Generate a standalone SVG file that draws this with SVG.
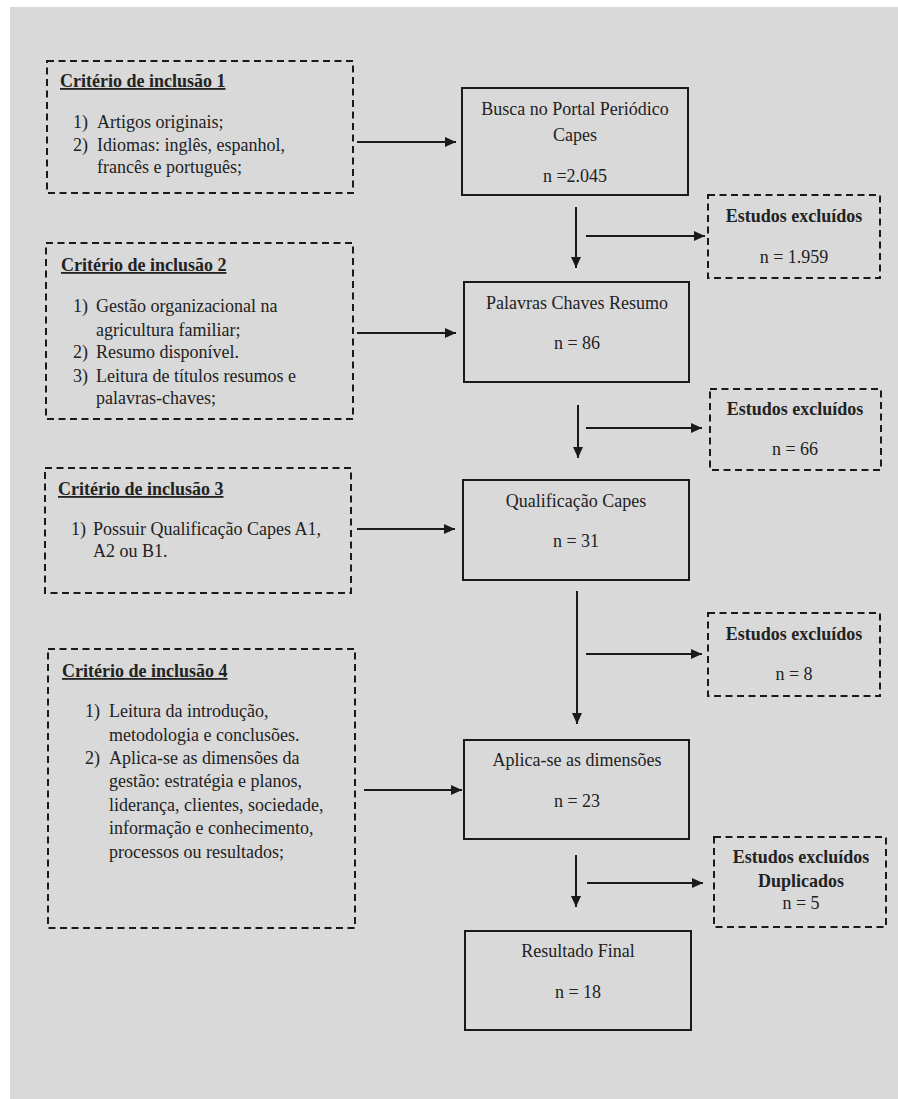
<svg xmlns="http://www.w3.org/2000/svg" width="898" height="1099" viewBox="0 0 898 1099" font-family="Liberation Serif, DejaVu Serif, serif">
<defs>
<marker id="ah" markerUnits="userSpaceOnUse" markerWidth="12" markerHeight="10" refX="11" refY="5" orient="auto">
<path d="M0,0 L11,5 L0,10 z" fill="#1a1a1a"/>
</marker>
<style>
text{font-family:'Liberation Serif','DejaVu Serif',serif;font-size:18px;fill:#222;}
.t{font-weight:bold;text-decoration:underline;}
.b{font-weight:bold;}
.c{text-anchor:middle;}
.dash{fill:none;stroke:#1a1a1a;stroke-width:2;stroke-dasharray:7 4.5;}
.box{fill:none;stroke:#1a1a1a;stroke-width:2;}
.con{fill:none;stroke:#1a1a1a;stroke-width:2;marker-end:url(#ah);}
</style>
</defs>
<rect x="0" y="0" width="898" height="1099" fill="#ffffff"/>
<rect x="10" y="7" width="888" height="1092" fill="#d9d9d9"/>

<g id="crit1">
<rect class="dash" x="47" y="61" width="306" height="132"/>
<text class="t" x="60" y="87">Critério de inclusão 1</text>
<text x="73" y="128">1)</text><text x="97" y="128">Artigos originais;</text>
<text x="73" y="151">2)</text><text x="97" y="151">Idiomas: inglês, espanhol,</text>
<text x="97" y="173">francês e português;</text>
</g>

<g id="crit2">
<rect class="dash" x="46" y="243" width="307" height="176"/>
<text class="t" x="61" y="271">Critério de inclusão 2</text>
<text x="73" y="312">1)</text><text x="96" y="312">Gestão organizacional na</text>
<text x="96" y="336">agricultura familiar;</text>
<text x="73" y="358">2)</text><text x="96" y="358">Resumo disponível.</text>
<text x="73" y="382">3)</text><text x="96" y="382">Leitura de títulos resumos e</text>
<text x="96" y="404">palavras-chaves;</text>
</g>

<g id="crit3">
<rect class="dash" x="45" y="468" width="306" height="125"/>
<text class="t" x="58" y="495">Critério de inclusão 3</text>
<text x="71" y="535">1)</text><text x="93" y="535">Possuir Qualificação Capes A1,</text>
<text x="93" y="557">A2 ou B1.</text>
</g>

<g id="crit4">
<rect class="dash" x="48" y="649" width="307" height="279"/>
<text class="t" x="62" y="677">Critério de inclusão 4</text>
<text x="85" y="717">1)</text><text x="109" y="717">Leitura da introdução,</text>
<text x="109" y="741">metodologia e conclusões.</text>
<text x="85" y="764">2)</text><text x="109" y="764">Aplica-se as dimensões da</text>
<text x="109" y="787">gestão: estratégia e planos,</text>
<text x="109" y="811">liderança, clientes, sociedade,</text>
<text x="109" y="834">informação e conhecimento,</text>
<text x="109" y="858">processos ou resultados;</text>
</g>

<g id="busca">
<rect class="box" x="462" y="88" width="226" height="107"/>
<text class="c" x="575" y="115">Busca no Portal Periódico</text>
<text class="c" x="575" y="141">Capes</text>
<text class="c" x="575" y="182">n =2.045</text>
</g>

<g id="palavras">
<rect class="box" x="464" y="282" width="225" height="100"/>
<text class="c" x="577" y="309">Palavras Chaves Resumo</text>
<text class="c" x="577" y="349">n = 86</text>
</g>

<g id="qualificacao">
<rect class="box" x="463" y="480" width="226" height="100"/>
<text class="c" x="576" y="507">Qualificação Capes</text>
<text class="c" x="576" y="547">n = 31</text>
</g>

<g id="aplica">
<rect class="box" x="464" y="740" width="225" height="99"/>
<text class="c" x="577" y="766">Aplica-se as dimensões</text>
<text class="c" x="577" y="807">n = 23</text>
</g>

<g id="resultado">
<rect class="box" x="465" y="931" width="226" height="99"/>
<text class="c" x="578" y="957">Resultado Final</text>
<text class="c" x="578" y="998">n = 18</text>
</g>

<g id="excl1">
<rect class="dash" x="708" y="195" width="172" height="83"/>
<text class="c b" x="794" y="222">Estudos excluídos</text>
<text class="c" x="794" y="263">n = 1.959</text>
</g>

<g id="excl2">
<rect class="dash" x="710" y="389" width="171" height="81"/>
<text class="c b" x="795" y="415">Estudos excluídos</text>
<text class="c" x="795" y="455">n = 66</text>
</g>

<g id="excl3">
<rect class="dash" x="708" y="613" width="172" height="83"/>
<text class="c b" x="794" y="640">Estudos excluídos</text>
<text class="c" x="794" y="680">n = 8</text>
</g>

<g id="excl4">
<rect class="dash" x="714" y="837" width="172" height="90"/>
<text class="c b" x="801" y="863">Estudos excluídos</text>
<text class="c b" x="801" y="887">Duplicados</text>
<text class="c" x="801" y="909">n = 5</text>
</g>

<g id="connectors">
<line class="con" x1="357" y1="142" x2="456" y2="142"/>
<line class="con" x1="357" y1="333" x2="456" y2="333"/>
<line class="con" x1="357" y1="529" x2="455" y2="529"/>
<line class="con" x1="364" y1="790" x2="462" y2="790"/>
<line class="con" x1="576" y1="207" x2="576" y2="268"/>
<line class="con" x1="578" y1="405" x2="578" y2="458"/>
<line class="con" x1="577" y1="591" x2="577" y2="724"/>
<line class="con" x1="576" y1="855" x2="576" y2="907"/>
<line class="con" x1="586" y1="236" x2="705" y2="236"/>
<line class="con" x1="586" y1="428" x2="702" y2="428"/>
<line class="con" x1="586" y1="654" x2="702" y2="654"/>
<line class="con" x1="587" y1="883" x2="703" y2="883"/>
</g>
</svg>
